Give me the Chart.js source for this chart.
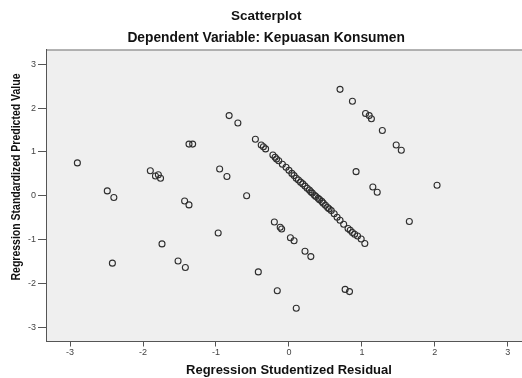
<!DOCTYPE html>
<html>
<head>
<meta charset="utf-8">
<script src="https://cdn.jsdelivr.net/npm/chart.js@4/dist/chart.umd.min.js"></script>
<style>
    html, body { margin: 0; padding: 0; background: #fff; overflow: hidden; }
    #wrap { width: 536px; height: 378px; }
</style>
</head>
<body>
<div id="wrap"><canvas id="scatter" width="536" height="378"></canvas></div>
<script>
// Chart texts
const chartTitle = "Scatterplot";
const chartSubtitle = "Dependent Variable: Kepuasan Konsumen";
const xTitle = "Regression Studentized Residual";
const yTitle = "Regression Standardized Predicted Value";

// Tick labels
const xTicks = [-3, -2, -1, 0, 1, 2, 3];
const yTicks = [-3, -2, -1, 0, 1, 2, 3];

// Studentized residuals (x) and standardized predicted values (y)
const residual = [
    -0.46, -0.38, -0.35, -0.32, -0.22, -0.19, -0.17, -0.14, -0.09, -0.04,
    0.00, 0.04, 0.07, 0.10, 0.13, 0.16, 0.19, 0.22, 0.25, 0.28,
    0.30, 0.32, 0.35, 0.37, 0.40, 0.42, 0.45, 0.47, 0.50, 0.53,
    0.55, 0.58, 0.62, 0.66, 0.70, 0.75, 0.81, 0.84, 0.87, 0.90,
    0.94, 0.99, 1.04,
    -2.90, -0.82, -0.70, -1.37, -1.32, -1.90, -1.83, -1.79, -1.76, -0.95,
    -0.85, -2.49, -2.40, -1.43, -1.37, -0.58, -2.42, -1.74, -1.52, -1.42,
    -0.97, -0.42, -0.16, -0.20, -0.12, -0.10, 0.02, 0.07, 0.22, 0.30,
    0.10, 0.77, 0.83, 1.65, 0.70, 0.87, 1.05, 1.10, 1.13, 1.28,
    1.47, 1.54, 0.92, 1.15, 1.21, 2.03
];
const predicted = [
    1.29, 1.16, 1.12, 1.07, 0.93, 0.88, 0.84, 0.80, 0.72, 0.65,
    0.58, 0.51, 0.46, 0.40, 0.36, 0.31, 0.27, 0.22, 0.17, 0.13,
    0.09, 0.06, 0.01, -0.02, -0.06, -0.09, -0.13, -0.17, -0.22, -0.27,
    -0.30, -0.34, -0.41, -0.49, -0.56, -0.65, -0.75, -0.79, -0.84, -0.88,
    -0.92, -0.99, -1.09,
    0.75, 1.83, 1.66, 1.18, 1.18, 0.57, 0.45, 0.48, 0.40, 0.61,
    0.44, 0.11, -0.04, -0.12, -0.21, 0.00, -1.54, -1.10, -1.49, -1.64,
    -0.85, -1.74, -2.17, -0.60, -0.72, -0.76, -0.96, -1.03, -1.27, -1.39,
    -2.57, -2.14, -2.19, -0.59, 2.43, 2.16, 1.88, 1.83, 1.76, 1.49,
    1.16, 1.04, 0.55, 0.20, 0.08, 0.24
];

let points = residual.map((x, i) => ({ x: x, y: predicted[i] }));

// plot background + top border
const plotBackground = {
    id: "plotBackground",
    beforeDraw(chart) {
        let { ctx, chartArea } = chart;
        ctx.save();
        ctx.fillStyle = "#efefef";
        ctx.fillRect(chartArea.left, chartArea.top, chartArea.right - chartArea.left, chartArea.bottom - chartArea.top);
        ctx.strokeStyle = "#9a9a9a";
        ctx.lineWidth = 1.5;
        ctx.beginPath();
        ctx.moveTo(chartArea.left, chartArea.top);
        ctx.lineTo(chartArea.right, chartArea.top);
        ctx.stroke();
        ctx.restore();
    }
};

// vertical axis title (SPSS puts it a bit above centre)
const yAxisTitle = {
    id: "yAxisTitle",
    afterDraw(chart) {
        let ctx = chart.ctx;
        ctx.save();
        ctx.font = "bold 12px 'Liberation Sans', Arial, sans-serif";
        ctx.fillStyle = "#111";
        ctx.textAlign = "center";
        ctx.textBaseline = "middle";
        let w = ctx.measureText(yTitle).width;
        ctx.translate(17, 177);
        ctx.rotate(-Math.PI / 2);
        ctx.scale(207 / w, 1);
        ctx.fillText(yTitle, 0, 0);
        ctx.restore();
    }
};

new Chart(document.getElementById("scatter").getContext("2d"), {
    type: "scatter",
    data: {
        datasets: [{
            data: points,
            pointStyle: "circle",
            pointRadius: 3,
            pointHoverRadius: 3,
            borderColor: "#2e2e2e",
            borderWidth: 1.1,
            backgroundColor: "rgba(0,0,0,0)"
        }]
    },
    options: {
        responsive: false,
        animation: false,
        layout: { padding: { left: 0, right: 3.7, top: 0, bottom: 0 } },
        plugins: {
            legend: { display: false },
            tooltip: { enabled: false },
            title: {
                display: true,
                text: chartTitle,
                color: "#111",
                font: { family: "'Liberation Sans', Arial, sans-serif", size: 13.5, weight: "bold", lineHeight: 1.2 },
                padding: { top: 7.9, bottom: 2 }
            },
            subtitle: {
                display: true,
                text: chartSubtitle,
                color: "#111",
                font: { family: "'Liberation Sans', Arial, sans-serif", size: 13.8, weight: "bold", lineHeight: 1.2 },
                padding: { top: 3.6, bottom: 3.7 }
            }
        },
        scales: {
            x: {
                type: "linear",
                min: -3.33,
                max: 3.33,
                afterBuildTicks: scale => { scale.ticks = xTicks.map(v => ({ value: v })); },
                afterFit: scale => { scale.height = 36.5; },
                ticks: {
                    color: "#444",
                    font: { family: "'Liberation Sans', Arial, sans-serif", size: 9 },
                    padding: 1,
                    maxRotation: 0
                },
                grid: { drawOnChartArea: false, drawTicks: true, tickLength: 5, color: "#555" },
                border: { display: true, color: "#555", width: 1 },
                title: {
                    display: true,
                    text: xTitle,
                    color: "#111",
                    font: { family: "'Liberation Sans', Arial, sans-serif", size: 13, weight: "bold", lineHeight: 1.1 },
                    padding: { top: 0, bottom: 0 }
                }
            },
            y: {
                type: "linear",
                min: -3.33,
                max: 3.33,
                afterBuildTicks: scale => { scale.ticks = yTicks.map(v => ({ value: v })); },
                afterFit: scale => { scale.width = 46; },
                ticks: {
                    color: "#444",
                    font: { family: "'Liberation Sans', Arial, sans-serif", size: 9 },
                    padding: 2
                },
                grid: { drawOnChartArea: false, drawTicks: true, tickLength: 8, color: "#555" },
                border: { display: true, color: "#555", width: 1 }
            }
        }
    },
    plugins: [plotBackground, yAxisTitle]
});
</script>
</body>
</html>
